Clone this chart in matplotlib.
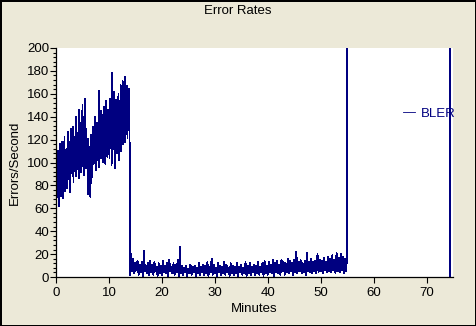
import numpy as np
import matplotlib
matplotlib.use("Agg")
import matplotlib.pyplot as plt
from matplotlib.ticker import MultipleLocator

plt.rcParams['font.family'] = ['Liberation Sans', 'DejaVu Sans']

# 0-14 min: peaks (t = 0.0, 0.2, ...) and troughs (t = 0.1, 0.3, ...)
p1_high = [104, 96, 110, 92, 116,
           100, 118, 108, 122, 104,
           112, 127, 106, 118, 129,
           116, 131, 122, 110, 140,
           126, 120, 146, 114, 135,
           150, 122, 156, 130, 119,
           121, 98, 114, 124, 103,
           131, 117, 140, 125, 135,
           128, 163, 133, 145, 124,
           149, 136, 154, 128, 146,
           137, 156, 145, 178, 141,
           162, 140, 155, 132, 160,
           149, 168, 138, 171, 158,
           175, 160, 167, 150, 164]
p1_low = [66, 78, 62, 84, 71,
          80, 69, 88, 75, 92,
          78, 96, 85, 74, 101,
          90, 83, 99, 88, 105,
          94, 86, 103, 92, 97,
          108, 89, 101, 95, 112,
          72, 88, 70, 82, 95,
          99, 106, 93, 110, 102,
          96, 112, 104, 118, 100,
          110, 99, 116, 105, 121,
          104, 118, 98, 124, 112,
          95, 118, 108, 126, 102,
          122, 110, 128, 116, 131,
          118, 134, 121, 128, 120]

# 14-55 min: troughs (t = 14.0, 14.4, ...) and peaks (t = 14.2, 14.6, ...)
p2_low = [2, 5, 3, 6, 2,
          4, 1, 5, 3, 2,
          4, 2, 5, 1, 3,
          2, 4, 3, 1, 5,
          3, 2, 4, 1, 3,
          2, 4, 1, 3, 2,
          4, 1, 3, 2, 4,
          2, 3, 1, 4, 2,
          3, 1, 4, 2, 3,
          2, 4, 1, 3, 2,
          3, 1, 4, 2, 3,
          1, 3, 2, 4, 2,
          3, 2, 4, 1, 3,
          2, 4, 3, 1, 4,
          3, 2, 5, 2, 4,
          3, 5, 2, 4, 3,
          5, 3, 4, 2, 5,
          4, 3, 5, 3, 4,
          5, 3, 6, 4, 5,
          4, 6, 3, 5, 4,
          6, 3, 5]
p2_high = [20, 16, 12, 14, 11,
           13, 23, 10, 12, 14,
           11, 13, 9, 12, 10,
           14, 10, 12, 15, 9,
           12, 11, 15, 26, 10,
           8, 10, 7, 11, 9,
           10, 8, 12, 9, 11,
           10, 13, 9, 16, 11,
           8, 12, 10, 9, 13,
           11, 8, 12, 10, 9,
           12, 9, 11, 8, 13,
           10, 12, 9, 11, 10,
           13, 9, 12, 14, 10,
           13, 11, 15, 12, 14,
           11, 15, 13, 12, 16,
           14, 12, 15, 22, 13,
           15, 12, 14, 21, 13,
           16, 13, 14, 20, 15,
           14, 17, 13, 18, 16,
           19, 15, 21, 17, 20,
           18, 16, 19]

# off-scale readings at the end of the run
tail_t = [55.05, 74.4, 74.45]
tail_v = [1000, 1000, 0]

p1_v = np.ravel(np.column_stack([p1_high, p1_low]))
p1_t = np.arange(len(p1_v)) * 0.1
p2_v = np.ravel(np.column_stack([p2_low, p2_high]))
p2_t = 14.0 + np.arange(len(p2_v)) * 0.2

t = np.concatenate([p1_t, p2_t, tail_t])
v = np.concatenate([p1_v, p2_v, tail_v])

bg = '#ECE9D8'
navy = '#000080'

fig = plt.figure(figsize=(4.76, 3.26), dpi=100)
fig.patch.set_facecolor(bg)
fig.patch.set_edgecolor('black')
fig.patch.set_linewidth(2)

ax = fig.add_axes([56 / 476, 49 / 326, 397 / 476, 229 / 326])
ax.plot(t, v, color=navy, lw=0.6, antialiased=False, label='BLER')

ax.set_xlim(0, 75)
ax.set_ylim(0, 200)
ax.yaxis.set_major_locator(MultipleLocator(20))
ax.yaxis.set_minor_locator(MultipleLocator(4))
ax.set_xticks(range(0, 71, 10))

for s in ['top', 'right']:
    ax.spines[s].set_visible(False)
for s in ['left', 'bottom']:
    ax.spines[s].set_linewidth(0.9)

ax.tick_params(axis='both', which='major', length=4, width=0.8,
               labelsize=9.5, direction='out')
ax.tick_params(axis='y', which='major', pad=1)
ax.tick_params(axis='x', which='major', pad=3)
ax.tick_params(axis='y', which='minor', length=2.5, width=0.8)

leg = ax.legend(loc='center left', bbox_to_anchor=(0.875, 0.712), frameon=False,
                handlelength=0.9, handletextpad=0.4, borderpad=0, borderaxespad=0,
                fontsize=9.5, labelcolor='linecolor')

fig.text(0.5, 1 - 11 / 326, 'Error Rates', ha='center', va='center', fontsize=9.5)
fig.text(254 / 476, 1 - 309 / 326, 'Minutes', ha='center', va='center', fontsize=9.5)
fig.text(15 / 476, 1 - 163 / 326, 'Errors/Second', ha='center', va='center',
         rotation=90, fontsize=9.5)

fig.savefig('out.png', dpi=100, facecolor=bg, edgecolor='black')
